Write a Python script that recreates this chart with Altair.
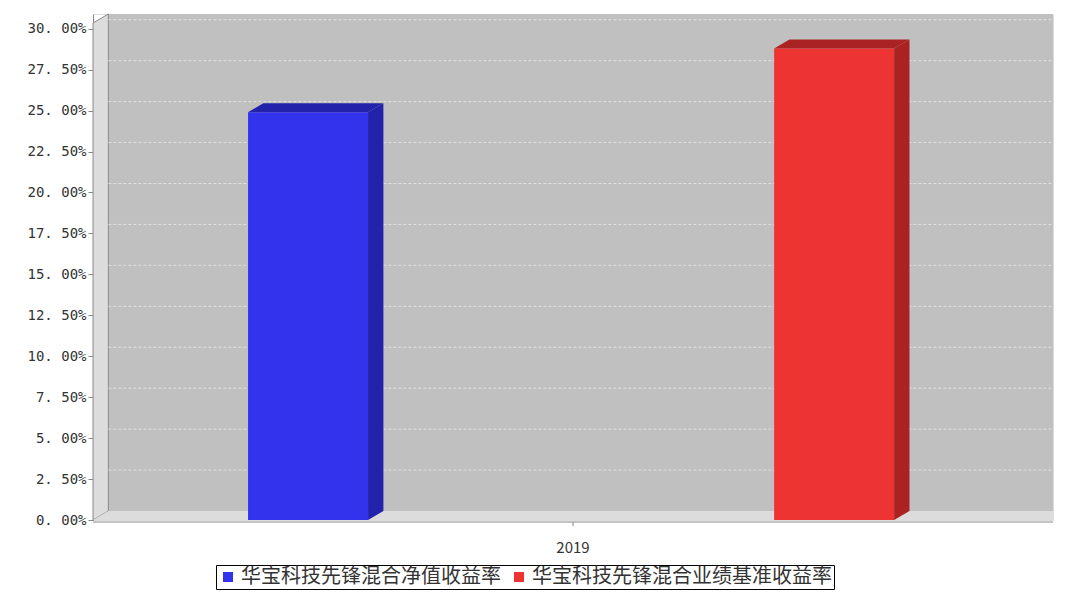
import pandas as pd
import altair as alt

## Data
series = ["华宝科技先锋混合净值收益率", "华宝科技先锋混合业绩基准收益率"]
values = [0.249, 0.288]
colors = ["#3333ee", "#ee3333"]
sides = ["#2222aa", "#aa2222"]
year = "2019"
ticks = [i * 0.025 for i in range(13)]

# 3D look: depth in x (domain units) and lift in y
d = 0.016
e = 0.0055
bw = 0.125
centers = [0.224, 0.772]

W, H = 960, 506
xs = alt.Scale(domain=[0, 1], nice=False)
ys = alt.Scale(domain=[0, 0.30 + e + 0.0035], nice=False)

fronts = pd.DataFrame({
    "s": series, "v": values,
    "x0": [c - bw / 2 for c in centers], "x1": [c + bw / 2 for c in centers],
})

side_rows, top_rows = [], []
for s, v, c, col in zip(series, values, centers, sides):
    x1 = c + bw / 2
    x0 = c - bw / 2
    side_rows += [{"s": s, "x": x1, "y": v, "y2": 0, "c": col},
                  {"s": s, "x": x1 + d, "y": v + e, "y2": e, "c": col}]
    top_rows += [{"s": s, "y": v, "x": x0, "x2": x1, "c": col},
                 {"s": s, "y": v + e, "x": x0 + d, "x2": x1 + d, "c": col}]
side_df = pd.DataFrame(side_rows)
top_df = pd.DataFrame(top_rows)

# back wall, left wall and floor
back = alt.Chart(pd.DataFrame({"x": [d], "x2": [1], "y": [e], "y2": [ys.domain[1]]})).mark_rect(
    color="#c0c0c0").encode(
    x=alt.X("x:Q", scale=xs, axis=None), x2="x2", y=alt.Y("y:Q", scale=ys), y2="y2")

left = alt.Chart(pd.DataFrame({"x": [0, d], "y": [ys.domain[1] - e, ys.domain[1]], "y2": [0, e]})).mark_area(
    color="#dcdcdc", stroke="#888", strokeWidth=1).encode(
    x=alt.X("x:Q", scale=xs), y=alt.Y("y:Q", scale=ys), y2="y2")

floor = alt.Chart(pd.DataFrame({"y": [0, e], "x": [0, d], "x2": [1, 1]})).mark_area(
    orient="horizontal", color="#dcdcdc").encode(
    y=alt.Y("y:Q", scale=ys), x=alt.X("x:Q", scale=xs), x2="x2")

grid = alt.Chart(pd.DataFrame({"t": ticks[1:]})).transform_calculate(
    g="datum.t + %f" % e).mark_rule(color="#e8e8e8", strokeDash=[3, 2], strokeWidth=0.8).encode(
    y=alt.Y("g:Q", scale=ys), x=alt.value(W * d), x2=alt.value(W))

front = alt.Chart(fronts).mark_rect().encode(
    x=alt.X("x0:Q", scale=xs), x2="x1",
    y=alt.Y("v:Q", scale=ys, title=None,
            axis=alt.Axis(values=ticks, labelExpr="replace(format(datum.value, '.2%'), '.', '. ')",
                          grid=False, domainColor="#888", tickColor="#888", labelFontSize=14,
                          labelColor="#333", labelFont="DejaVu Sans Mono", labelPadding=2)),
    y2=alt.datum(0),
    color=alt.Color("s:N", scale=alt.Scale(domain=series, range=colors), sort=series,
                    legend=alt.Legend(title=None, orient="none", legendX=123, legendY=551,
                                      direction="horizontal", labelLimit=0, columnPadding=8,
                                      symbolType="square", symbolSize=100, labelFontSize=20,
                                      labelFont="Noto Sans CJK SC", labelColor="#333",
                                      strokeColor="black", padding=2, labelOffset=3,
                                      symbolStrokeWidth=0)))

side = alt.Chart(side_df).mark_area().encode(
    x=alt.X("x:Q", scale=xs), y=alt.Y("y:Q", scale=ys), y2="y2",
    detail="s:N", color=alt.Color("c:N", scale=None))

top = alt.Chart(top_df).mark_area(orient="horizontal").encode(
    y=alt.Y("y:Q", scale=ys), x=alt.X("x:Q", scale=xs), x2="x2",
    detail="s:N", color=alt.Color("c:N", scale=None))

xlab = alt.Chart(pd.DataFrame({"yr": [year]})).mark_text(
    fontSize=15, font="Noto Sans CJK SC", color="#333", dy=28).encode(
    text="yr:N", x=alt.value(W / 2), y=alt.value(H))
xaxis = alt.Chart(pd.DataFrame({"a": [0]})).mark_rule(color="#888").encode(
    x=alt.value(0), x2=alt.value(W), y=alt.value(H + 2))
xtick = alt.Chart(pd.DataFrame({"a": [0]})).mark_rule(color="#888").encode(
    x=alt.value(W / 2), y=alt.value(H + 2), y2=alt.value(H + 6))

chart = alt.layer(back, left, floor, grid, front, side, top, xaxis, xtick, xlab).properties(
    width=W, height=H, padding={"left": 18, "top": 4, "right": 0, "bottom": 0}
).configure_view(stroke=None).configure(background="white")

chart.save("out.html", embed_options={"renderer": "svg", "actions": False})
